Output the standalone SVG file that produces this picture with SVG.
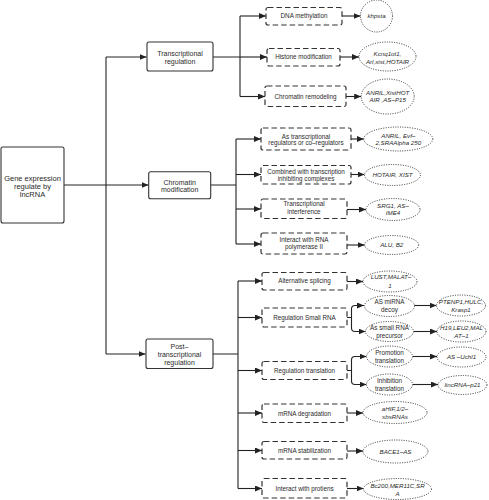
<svg xmlns="http://www.w3.org/2000/svg" width="489" height="500" viewBox="0 0 489 500">
<defs>
<marker id="ah" markerUnits="userSpaceOnUse" markerWidth="7" markerHeight="6" refX="7" refY="3" orient="auto">
<path d="M0,0 L7,3 L0,6 z" fill="#222"/>
</marker>
<style>
.solid{fill:#fff;stroke:#333;stroke-width:1.1}
.dash{fill:#fff;stroke:#333;stroke-width:1.2;stroke-dasharray:5.5 3}
.dot{fill:#fff;stroke:#333;stroke-width:1;stroke-dasharray:1 1.4}
.c{fill:none;stroke:#222;stroke-width:1.1}
.a{fill:none;stroke:#222;stroke-width:1.1;marker-end:url(#ah)}
text{font-family:"Liberation Sans",Arial,sans-serif;fill:#2a2a2a;text-anchor:middle}
.t1{font-size:7.5px}
.t2{font-size:7px}
.t3{font-size:6.3px}
.it{font-size:6.2px;font-style:italic}
</style>
</defs>
<rect width="489" height="500" fill="#fff"/>

<g id="connectors">
<path class="a" d="M64,185 H148.5"/>
<path class="c" d="M106,57 V354"/>
<path class="a" d="M106,57 H146.5"/>
<path class="a" d="M106,354 H145.5"/>

<path class="c" d="M213,57 H240 M240,16 V96.5"/>
<path class="a" d="M240,16 H266"/>
<path class="a" d="M240,57 H267"/>
<path class="a" d="M240,96.5 H265"/>

<path class="c" d="M211,185 H236 M236,139 V244"/>
<path class="a" d="M236,139 H261"/>
<path class="a" d="M236,174.5 H261"/>
<path class="a" d="M236,209 H261"/>
<path class="a" d="M236,244 H261"/>

<path class="c" d="M213,354 H238 M238,281 V488.5"/>
<path class="a" d="M238,281 H262"/>
<path class="a" d="M238,317.5 H262"/>
<path class="a" d="M238,370.5 H262"/>
<path class="a" d="M238,413 H262"/>
<path class="a" d="M238,450.5 H262"/>
<path class="a" d="M238,488.5 H262"/>

<path class="a" d="M342,16 H360.5"/>
<path class="a" d="M340,57 H359"/>
<path class="a" d="M346,96.5 H361.2"/>
<path class="a" d="M351,139 H363.8"/>
<path class="a" d="M351,174.5 H364.5"/>
<path class="a" d="M347,209.5 H366"/>
<path class="a" d="M347,245 H364.7"/>

<path class="a" d="M347,281.5 H363"/>
<path class="a" d="M347,317.5 H351.5 V309 Q351.5,305.5 355,305.5 H364"/>
<path class="a" d="M351.5,317.5 V328 Q351.5,331.5 355,331.5 H365.5"/>
<path class="a" d="M347,370.5 H351.5 V360 Q351.5,356.5 355,356.5 H366.5"/>
<path class="a" d="M351.5,370.5 V381 Q351.5,384.5 355,384.5 H366.5"/>
<path class="a" d="M347,413 H363"/>
<path class="a" d="M347,451 H363"/>
<path class="a" d="M347,488.5 H363.5"/>

<path class="a" d="M414,305.5 H436.5"/>
<path class="a" d="M413.5,331.5 H437"/>
<path class="a" d="M412.5,356.5 H437"/>
<path class="a" d="M412.5,384.5 H438"/>
</g>

<g id="root"><rect class="solid" x="1" y="147" width="63" height="76" rx="2"/>
<text class="t1" x="32.5" y="180.5">Gene expression</text>
<text class="t1" x="32.5" y="188.8">regulate by</text>
<text class="t1" x="32.5" y="197.2">lncRNA</text></g>

<g id="transcriptional"><rect class="solid" x="147" y="42" width="66" height="29" rx="2"/>
<text class="t2" x="180" y="56.2">Transcriptional</text>
<text class="t2" x="180" y="63.8">regulation</text></g>

<g id="chromatin"><rect class="solid" x="148.7" y="171.7" width="62" height="27" rx="2"/>
<text class="t2" x="179.7" y="184.5">Chromatin</text>
<text class="t2" x="179.7" y="192.2">modification</text></g>

<g id="posttranscriptional"><rect class="solid" x="146" y="339" width="67" height="29.5" rx="2"/>
<text class="t2" x="179.5" y="348.5">Post–</text>
<text class="t2" x="179.5" y="356.8">transcriptional</text>
<text class="t2" x="179.5" y="364.8">regulation</text></g>

<g id="dna-methylation"><rect class="dash" x="266" y="7.5" width="76" height="17.5" rx="2"/>
<text class="t3" x="304" y="18.2">DNA methylation</text></g>
<g id="histone"><rect class="dash" x="267" y="48.5" width="73" height="17.5" rx="2"/>
<text class="t3" x="303.5" y="59.3">Histone modification</text></g>
<g id="remodeling"><rect class="dash" x="265" y="86" width="81" height="20.5" rx="2"/>
<text class="t3" x="305.5" y="98.6">Chromatin remodeling</text></g>
<g id="as-regulators"><rect class="dash" x="261" y="128" width="90" height="22" rx="2"/>
<text class="t3" x="306" y="138.5">As  transcriptional</text>
<text class="t3" x="306" y="145">regulators or co–regulators</text></g>
<g id="combined"><rect class="dash" x="261" y="165.5" width="90" height="18.5" rx="2"/>
<text class="t3" x="306" y="174">Combined with transcription</text>
<text class="t3" x="306" y="181.2">inhibiting complexes</text></g>
<g id="interference"><rect class="dash" x="261" y="199" width="86" height="19.5" rx="2"/>
<text class="t3" x="304" y="205.6">Transcriptional</text>
<text class="t3" x="304" y="214.2">interference</text></g>
<g id="rna-pol"><rect class="dash" x="261" y="233" width="86" height="21" rx="2"/>
<text class="t3" x="304" y="241.6">Interact with RNA</text>
<text class="t3" x="304" y="248.6">polymerase  II</text></g>

<g id="alt-splicing"><rect class="dash" x="262" y="272.5" width="85" height="17.5" rx="2"/>
<text class="t3" x="304.5" y="283.3">Alternative splicing</text></g>
<g id="small-rna"><rect class="dash" x="262" y="308" width="85" height="19" rx="2"/>
<text class="t3" x="304.5" y="319.6">Regulation Small RNA</text></g>
<g id="translation"><rect class="dash" x="262" y="361.5" width="85" height="18" rx="2"/>
<text class="t3" x="304.5" y="372.8">Regulation translation</text></g>
<g id="degradation"><rect class="dash" x="262" y="404" width="85" height="18.5" rx="2"/>
<text class="t3" x="304.5" y="415.5">mRNA degradation</text></g>
<g id="stabilization"><rect class="dash" x="262" y="441.5" width="85" height="17.5" rx="2"/>
<text class="t3" x="304.5" y="452.6">mRNA stabilization</text></g>
<g id="proteins"><rect class="dash" x="262" y="478.5" width="85" height="19.5" rx="2"/>
<text class="t3" x="304.5" y="490.6">Interact with protiens</text></g>

<g id="e-khpsta"><ellipse class="dot" cx="376.5" cy="16" rx="16" ry="16"/>
<text class="it" x="376.5" y="18.2">khpsta</text></g>
<g id="e-kcnq"><ellipse class="dot" cx="387.5" cy="56.5" rx="28.5" ry="14.5"/>
<text class="it" x="387.5" y="55.5">Kcnq1ot1,</text>
<text class="it" x="387.5" y="63.8">Arl,xist,HOTAIR</text></g>
<g id="e-anril"><ellipse class="dot" cx="387.7" cy="96.5" rx="26.5" ry="17.5"/>
<text class="it" x="387.7" y="95.2">ANRIL,XistHOT</text>
<text class="it" x="387.7" y="102.2">AIR ,AS–P15</text></g>
<g id="e-evf"><ellipse class="dot" cx="398.3" cy="139" rx="34.5" ry="12"/>
<text class="it" x="398.3" y="138.2">ANRIL, Evf–</text>
<text class="it" x="398.3" y="145.2">2,SRAAlpha 250</text></g>
<g id="e-hotair"><ellipse class="dot" cx="392.5" cy="175" rx="28" ry="10.5"/>
<text class="it" x="392.5" y="177.2">HOTAIR, XIST</text></g>
<g id="e-srg1"><ellipse class="dot" cx="393" cy="209.5" rx="27" ry="11"/>
<text class="it" x="393" y="207.7">SRG1, AS–</text>
<text class="it" x="393" y="215.2">IME4</text></g>
<g id="e-alu"><ellipse class="dot" cx="391.7" cy="245" rx="27" ry="9.5"/>
<text class="it" x="391.7" y="247.2">ALU,  B2</text></g>

<g id="e-lust"><ellipse class="dot" cx="390" cy="281.5" rx="27" ry="10.5"/>
<text class="it" x="391" y="279.2">LUST,MALAT–</text>
<text class="it" x="390" y="287.5">1</text></g>
<g id="e-mirna"><ellipse class="dot" cx="389.5" cy="306" rx="25" ry="10.5"/>
<text class="t3" x="389.5" y="304.2">AS miRNA</text>
<text class="t3" x="389.5" y="312.2">decoy</text></g>
<g id="e-precursor"><ellipse class="dot" cx="389.5" cy="331.5" rx="24" ry="10"/>
<text class="t3" x="389.5" y="330.2">As  small RNA</text>
<text class="t3" x="389.5" y="338.2">precursor</text></g>
<g id="e-ptenp1"><ellipse class="dot" cx="461" cy="305.5" rx="24.5" ry="10.5"/>
<text class="it" x="461" y="304.2">PTENP1,HULC,</text>
<text class="it" x="461" y="312.2">Krasp1</text></g>
<g id="e-h19"><ellipse class="dot" cx="461.5" cy="331.5" rx="24.5" ry="10.5"/>
<text class="it" x="461.5" y="330.2">H19,LEU2,MAL</text>
<text class="it" x="461.5" y="338.2">AT–1</text></g>
<g id="e-promotion"><ellipse class="dot" cx="389.5" cy="356.5" rx="23" ry="10.5"/>
<text class="t3" x="389.5" y="355">Promotion</text>
<text class="t3" x="389.5" y="363">translation</text></g>
<g id="e-inhibition"><ellipse class="dot" cx="389.5" cy="384.5" rx="23" ry="10.5"/>
<text class="t3" x="389.5" y="383">Inhibition</text>
<text class="t3" x="389.5" y="391">translation</text></g>
<g id="e-uchl1"><ellipse class="dot" cx="461.5" cy="357" rx="24.5" ry="10"/>
<text class="it" x="461.5" y="359.2">AS –Uchl1</text></g>
<g id="e-p21"><ellipse class="dot" cx="462.5" cy="385" rx="24.5" ry="9.5"/>
<text class="it" x="462.5" y="387.2">lincRNA–p21</text></g>
<g id="e-ahif"><ellipse class="dot" cx="395" cy="412.5" rx="32" ry="11"/>
<text class="it" x="395" y="410.8">aHIF,1/2–</text>
<text class="it" x="395" y="418.5">sbsRNAs</text></g>
<g id="e-bace1"><ellipse class="dot" cx="395.5" cy="451.5" rx="32.5" ry="11.5"/>
<text class="it" x="395.5" y="453.7">BACE1–AS</text></g>
<g id="e-bc200"><ellipse class="dot" cx="397.5" cy="489" rx="34" ry="10.5"/>
<text class="it" x="397.5" y="487.5">Bc200,MER11C,SR</text>
<text class="it" x="397.5" y="495.5">A</text></g>
</svg>
